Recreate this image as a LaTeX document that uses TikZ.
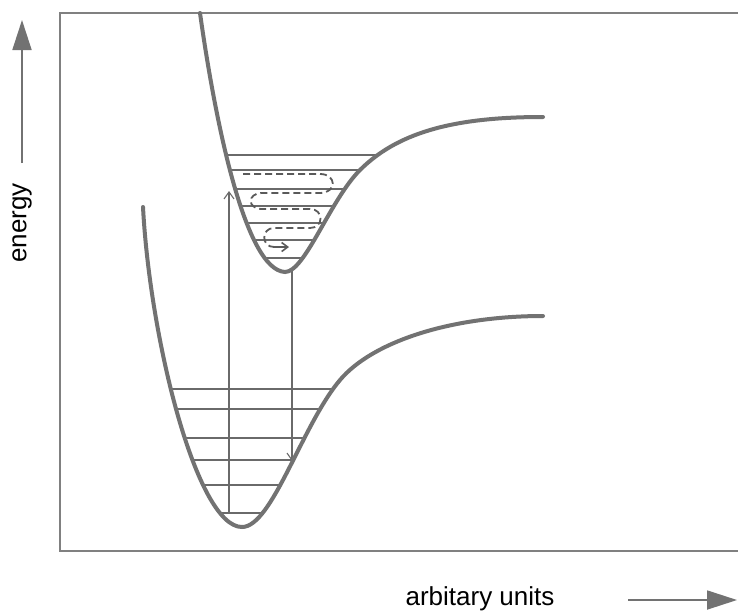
\documentclass[tikz,border=0pt]{standalone}
\usepackage{fontspec}
\setmainfont{Liberation Sans}
\usetikzlibrary{arrows.meta}
\definecolor{curvegray}{HTML}{727272}
\definecolor{framegray}{HTML}{808080}
\definecolor{linegray}{HTML}{6A6A6A}
\definecolor{dashgray}{HTML}{5A5A5A}
\begin{document}
\begin{tikzpicture}[x=1pt,y=-1pt,
  curve/.style={draw=curvegray,line width=4pt,line cap=round},
  frame/.style={draw=framegray,line width=1.6pt},
  level/.style={draw=linegray,line width=1.1pt},
  trans/.style={draw=linegray,line width=1.1pt,-{Straight Barb[length=7pt,width=10pt]}},
  relax/.style={draw=dashgray,line width=1.8pt,dash pattern=on 7pt off 4pt},
  axisarrow/.style={draw=curvegray,line width=1.8pt,-{Triangle[length=30pt,width=19pt]}},
  lbl/.style={font=\fontsize{26}{30}\selectfont,text=black,inner sep=0pt}]
\useasboundingbox (0,0) rectangle (738,614);
\fill[white] (0,0) rectangle (738,614);
% frame
\draw[frame] (738,13) -- (60,13) -- (60,551) -- (738,551);
% vibrational levels, upper well
\begin{scope}
\clip (200,13) .. controls (215,120) and (245,270) .. (285,272)
  .. controls (305,272) and (330,200) .. (360,170)
  .. controls (400,130) and (460,117) .. (543,117) -- cycle;
\foreach \yy in {155,170,189,206,223,240,258}
  \draw[level] (190,\yy) -- (420,\yy);
\end{scope}
% vibrational levels, lower well
\begin{scope}
\clip (143,207) .. controls (150,340) and (197,527) .. (242,527)
  .. controls (272,527) and (302,425) .. (340,380)
  .. controls (372,342) and (450,316) .. (543,316) -- cycle;
\foreach \yy in {389,409,438,460,485,513}
  \draw[level] (140,\yy) -- (420,\yy);
\end{scope}
% transitions
\coordinate (absS) at (229,513);
\coordinate (absE) at (229,191);
\coordinate (emS) at (292,269);
\coordinate (emE) at (292,461);
\draw[trans] (absS) -- (absE);
\draw[trans] (emS) -- (emE);
% relaxation path
\coordinate (r1) at (243,174);
\coordinate (r5) at (289,247);
\draw[relax] (r1) -- (320,174) .. controls (337,174) and (337,193) .. (320,193)
  -- (262,193) .. controls (247,193) and (247,209) .. (262,209)
  -- (310,209) .. controls (324,209) and (324,228) .. (310,228)
  -- (274,228) .. controls (261,228) and (261,247) .. (274,247);
\draw[draw=dashgray,line width=1.6pt,-{Straight Barb[length=6pt,width=9pt]}] (274,247) -- (r5);
% potential curves
\draw[curve] (200,13) .. controls (215,120) and (245,270) .. (285,272)
  .. controls (305,272) and (330,200) .. (360,170)
  .. controls (400,130) and (460,117) .. (543,117);
\draw[curve] (143,207) .. controls (150,340) and (197,527) .. (242,527)
  .. controls (272,527) and (302,425) .. (340,380)
  .. controls (372,342) and (450,316) .. (543,316);
% axes labels
\coordinate (eS) at (22,163);
\coordinate (eE) at (22,20);
\draw[axisarrow] (eS) -- (eE);
\node[lbl,rotate=90] (energy) at (22,223) {energy};
\coordinate (uS) at (628,600);
\coordinate (uE) at (737,600);
\draw[axisarrow] (uS) -- (uE);
\node[lbl] (units) at (480,599) {arbitary units};
\end{tikzpicture}
\end{document}
